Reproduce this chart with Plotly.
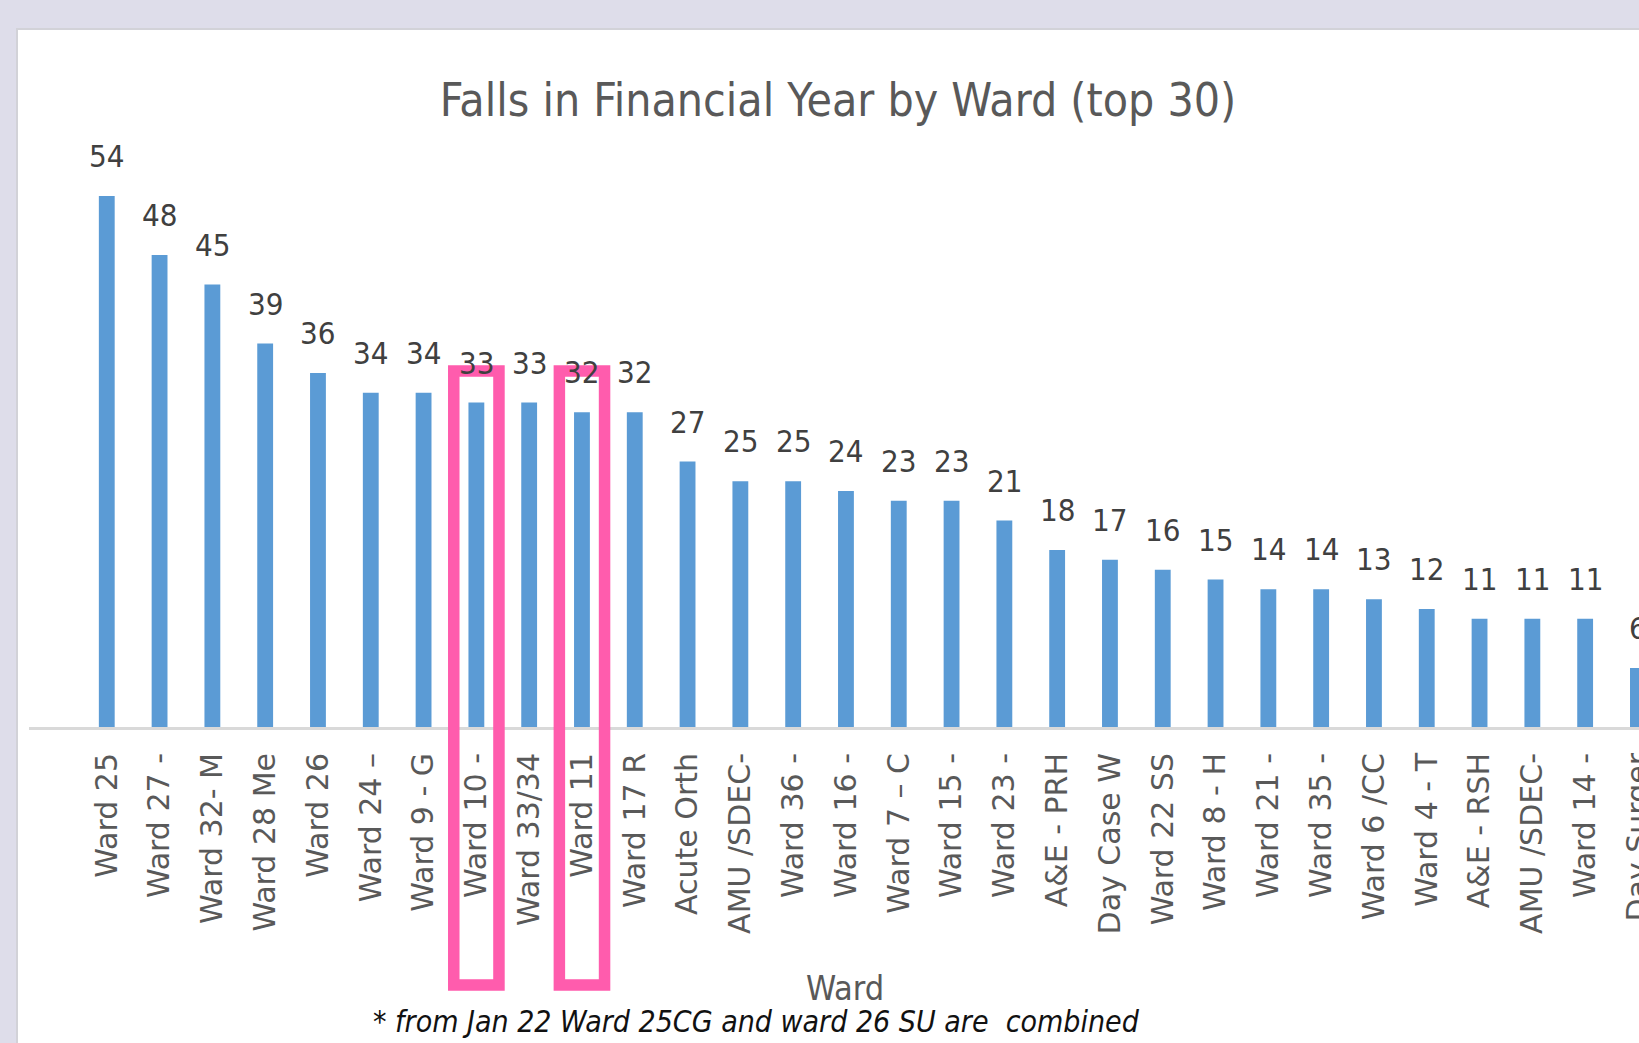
import plotly.graph_objects as go

# ---------------- data ----------------
wards = ["Ward 25", "Ward 27 -", "Ward 32- M", "Ward 28 Me", "Ward 26", "Ward 24 –",
         "Ward 9 - G", "Ward 10 -", "Ward 33/34", "Ward 11", "Ward 17 R", "Acute Orth",
         "AMU /SDEC-", "Ward 36 -", "Ward 16 -", "Ward 7 – C", "Ward 15 -", "Ward 23 -",
         "A&E - PRH", "Day Case W", "Ward 22 SS", "Ward 8 - H", "Ward 21 -", "Ward 35 -",
         "Ward 6 /CC", "Ward 4 - T", "A&E - RSH", "AMU /SDEC-", "Ward 14 -", "Day Surger"]
falls = [54, 48, 45, 39, 36, 34, 34, 33, 33, 32, 32, 27, 25, 25, 24, 23, 23, 21,
         18, 17, 16, 15, 14, 14, 13, 12, 11, 11, 11, 6]
highlighted = [7, 9]   # indices of wards boxed in pink

title_text = "Falls in Financial Year by Ward (top 30)"
x_title = "Ward"
footnote = "* from Jan 22 Ward 25CG and ward 26 SU are  combined"

# ---------------- layout geometry (pixels) ----------------
W, H = 1639, 1043
L, R, T, B = 29, 0, 137, 316
plotW = W - L - R
plotH = H - T - B

def xp(px):
    return (px - L) / plotW

def yp(py):
    return (H - B - py) / plotH

NARROW = "DejaVu Sans Condensed, Liberation Sans Narrow, sans-serif"
x = list(range(len(wards)))

fig = go.Figure()
fig.add_trace(go.Bar(
    x=x, y=falls, width=0.3,
    marker=dict(color="#5B9BD5", line=dict(width=0)),
    hoverinfo="skip", showlegend=False,
))

annotations = []
for i, v in zip(x, falls):
    annotations.append(dict(
        x=i, y=v, xref="x", yref="y", text=str(v), showarrow=False,
        yanchor="middle", xanchor="center", yshift=40,
        font=dict(family=NARROW, size=31, color="#404040"),
    ))

annotations.append(dict(
    x=xp(845), y=yp(988), xref="paper", yref="paper", text=x_title,
    showarrow=False, xanchor="center", yanchor="middle",
    font=dict(family=NARROW, size=34, color="#595959"),
))
annotations.append(dict(
    x=xp(756), y=yp(1021), xref="paper", yref="paper",
    text="<i>" + footnote + "</i>",
    showarrow=False, xanchor="center", yanchor="middle",
    font=dict(family=NARROW, size=30, color="#111111"),
))

shapes = [
    dict(type="rect", xref="paper", yref="paper", layer="below",
         x0=xp(17), x1=xp(W + 20), y0=yp(H + 20), y1=yp(29),
         fillcolor="white", line=dict(color="#D2D2D8", width=2)),
]
for idx in highlighted:
    shapes.append(dict(
        type="rect", xref="x", yref="paper", layer="above",
        x0=idx - 0.428, x1=idx + 0.428, y0=yp(985), y1=yp(371),
        line=dict(color="#FF5CAD", width=11.5), fillcolor="rgba(0,0,0,0)",
    ))

fig.update_layout(
    width=W, height=H,
    margin=dict(l=L, r=R, t=T, b=B, autoexpand=False),
    paper_bgcolor="#DEDDEA",
    plot_bgcolor="white",
    title=dict(text=title_text, x=838 / W, xref="container", xanchor="center",
               y=1 - 100 / H, yref="container", yanchor="middle",
               font=dict(family=NARROW, size=46, color="#595959")),
    xaxis=dict(
        range=[-1.473, 29.02], tickmode="array", tickvals=x, ticktext=wards,
        tickangle=-90, showgrid=False, zeroline=False,
        showline=True, linecolor="#D9D9D9", linewidth=3,
        ticks="", ticklabelstandoff=11, ticklabeloverflow="allow",
        tickfont=dict(family="DejaVu Sans", size=30, color="#595959"),
        fixedrange=True,
    ),
    yaxis=dict(range=[0, 60], visible=False, showgrid=False, zeroline=False,
               fixedrange=True),
    annotations=annotations,
    shapes=shapes,
    bargap=0.7,
)

fig.write_html(
    "out.html",
    config={"displayModeBar": False},
    post_script="document.body.style.margin='0';document.body.style.padding='0';"
                "document.body.style.overflow='hidden';",
)
